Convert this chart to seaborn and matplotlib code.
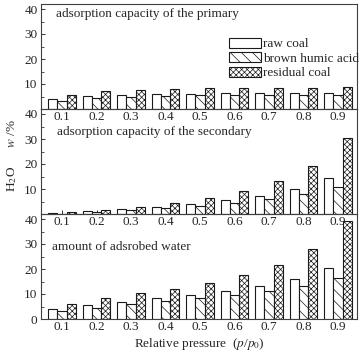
import numpy as np
import pandas as pd
import matplotlib
matplotlib.use('Agg')
import matplotlib.pyplot as plt
from matplotlib.ticker import MultipleLocator
import seaborn as sns

#### DATA

pressure = ['0.1', '0.2', '0.3', '0.4', '0.5', '0.6', '0.7', '0.8', '0.9']
samples = ['raw coal', 'brown humic acid', 'residual coal']

# adsorption capacity of the primary
primary_raw = [4.0, 5.1, 5.5, 5.9, 6.1, 6.4, 6.3, 6.3, 6.5]
primary_brown = [3.1, 4.4, 4.8, 5.1, 5.5, 5.6, 5.5, 5.8, 5.8]
primary_residual = [5.7, 7.1, 7.7, 8.1, 8.3, 8.5, 8.5, 8.6, 8.8]

# adsorption capacity of the secondary
secondary_raw = [0.5, 1.1, 2.0, 2.7, 3.9, 5.5, 7.3, 10.0, 14.3]
secondary_brown = [0.2, 0.9, 1.6, 2.3, 3.1, 4.3, 6.0, 8.0, 10.8]
secondary_residual = [0.7, 1.6, 2.9, 4.3, 6.4, 9.1, 13.1, 19.3, 30.5]

# amount of adsorbed water
total_raw = [4.1, 5.6, 6.9, 8.3, 9.6, 11.2, 13.3, 16.1, 20.3]
total_brown = [3.2, 4.5, 5.9, 7.2, 8.3, 9.6, 11.2, 13.2, 16.3]
total_residual = [6.0, 8.3, 10.3, 12.1, 14.5, 17.5, 21.6, 27.9, 39.2]

panel_titles = ['adsorption capacity of the primary',
                'adsorption capacity of the secondary',
                'amount of adsrobed water']


def long_df(raw, brown, residual):
    rows = []
    for vals, name in zip([raw, brown, residual], samples):
        for p, v in zip(pressure, vals):
            rows.append({'pressure': p, 'sample': name, 'w': v})
    return pd.DataFrame(rows)


panel_data = [long_df(primary_raw, primary_brown, primary_residual),
              long_df(secondary_raw, secondary_brown, secondary_residual),
              long_df(total_raw, total_brown, total_residual)]

#### PLOT

sns.set_style("ticks")
plt.rcParams['font.family'] = ['Liberation Serif', 'DejaVu Serif']
plt.rcParams['mathtext.fontset'] = 'stix'
plt.rcParams['hatch.linewidth'] = 0.5
plt.rcParams['hatch.color'] = '0.15'

fs = 9.5
hatches = ['', '\\\\\\', 'xxxxxx']
title_pos = [(0.048, 0.905), (0.05, 0.78), (0.036, 0.686)]

fig = plt.figure(figsize=(3.63, 3.54), dpi=100)

left = 41 / 363
width = 316 / 363
height = 105 / 354
bottom0 = 35 / 354

axes = []
for i in range(3):
    b = bottom0 + (2 - i) * height
    ax = fig.add_axes([left, b, width, height])
    ax.set_facecolor('none')
    axes.append(ax)

for i, ax in enumerate(axes):
    sns.barplot(data=panel_data[i], x='pressure', y='w', hue='sample',
                hue_order=samples, palette=['white'] * 3, saturation=1,
                edgecolor='0.1', linewidth=0.8, width=0.8, gap=0,
                legend=False, ax=ax)
    for cont, h in zip(ax.containers, hatches):
        for bar in cont:
            bar.set_hatch(h)

    ax.set_xlim(-0.61, 8.55)
    ax.set_ylim(0, 42)
    ax.set_yticks([0, 10, 20, 30, 40])
    if i < 2:
        ax.set_yticklabels(['', '10', '20', '30', '40'])
    ax.yaxis.set_minor_locator(MultipleLocator(5))
    ax.tick_params(axis='both', which='major', direction='in', length=3,
                   width=0.7, labelsize=fs, color='0.2')
    ax.tick_params(axis='y', which='minor', direction='in', length=2,
                   width=0.6, color='0.2')
    ax.tick_params(axis='x', pad=1.5)
    ax.tick_params(axis='y', pad=2.5)
    for s in ax.spines.values():
        s.set_linewidth(0.8)
        s.set_color('0.25')
    ax.set_xlabel('')
    ax.set_ylabel('')
    tx, ty = title_pos[i]
    ax.text(tx, ty, panel_titles[i], transform=ax.transAxes, va='center',
            ha='left', fontsize=fs)

axes[0].legend(handles=axes[0].containers, labels=samples, loc='upper left',
               bbox_to_anchor=(0.595, 0.68), frameon=False, fontsize=fs,
               handlelength=2.4, handleheight=0.8, handletextpad=0.2,
               labelspacing=0.15, borderpad=0, borderaxespad=0)

axes[2].set_xlabel(r'Relative pressure  ($p$/$p_0$)', fontsize=fs, labelpad=2)
fig.text(0.033, 0.56, r'H$_2$O      $w$ /%', rotation=90, ha='center',
         va='center', fontsize=fs)

plt.savefig('out.png', dpi=100)
